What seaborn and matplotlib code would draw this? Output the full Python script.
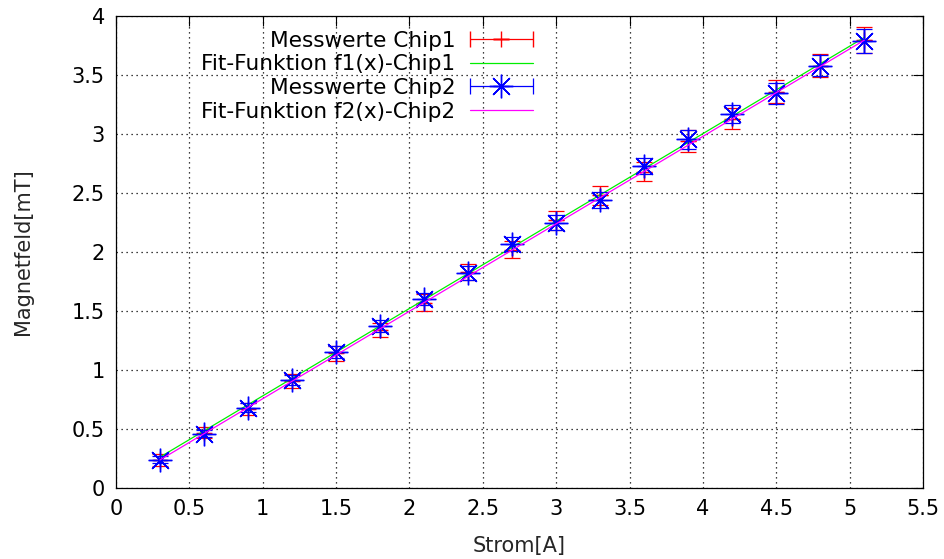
import matplotlib
matplotlib.use("Agg")
import matplotlib.pyplot as plt
import seaborn as sns
import pandas as pd
import numpy as np
from matplotlib.legend_handler import HandlerErrorbar
from matplotlib.lines import Line2D
from matplotlib.container import ErrorbarContainer

# ---- data ----
strom = [0.3, 0.6, 0.9, 1.2, 1.5, 1.8, 2.1, 2.4, 2.7, 3.0, 3.3, 3.6, 3.9, 4.2, 4.5, 4.8, 5.1]
chip1 = [0.24, 0.47, 0.67, 0.91, 1.14, 1.34, 1.57, 1.83, 2.02, 2.27, 2.48, 2.68, 2.94, 3.13, 3.36, 3.58, 3.80]
chip2 = [0.24, 0.46, 0.68, 0.915, 1.15, 1.37, 1.60, 1.825, 2.065, 2.25, 2.44, 2.73, 2.955, 3.17, 3.345, 3.58, 3.79]
chip1_err = [0.05, 0.05, 0.05, 0.06, 0.06, 0.06, 0.07, 0.07, 0.07, 0.08, 0.08, 0.08, 0.09, 0.09, 0.10, 0.10, 0.11]
chip2_err = [0.03, 0.03, 0.04, 0.04, 0.05, 0.05, 0.05, 0.06, 0.06, 0.06, 0.07, 0.07, 0.08, 0.08, 0.09, 0.09, 0.10]
strom_err = [0.05] * len(strom)

fit_x = [0.3, 5.1]
fit1_y = [0.262, 3.818]
fit2_y = [0.238, 3.795]

labels = ["Messwerte Chip1", "Fit-Funktion f1(x)-Chip1", "Messwerte Chip2", "Fit-Funktion f2(x)-Chip2"]
x_ticks = [0, 0.5, 1, 1.5, 2, 2.5, 3, 3.5, 4, 4.5, 5, 5.5]
x_ticklabels = ["0", "0.5", "1", "1.5", "2", "2.5", "3", "3.5", "4", "4.5", "5", "5.5"]
y_ticks = [0, 0.5, 1, 1.5, 2, 2.5, 3, 3.5, 4]
y_ticklabels = ["0", "0.5", "1", "1.5", "2", "2.5", "3", "3.5", "4"]

sns.set_theme(style="white")
plt.rcParams["font.family"] = ["DejaVu Sans"]
FS = 15
LFS = 15.6

RED, GREEN, BLUE, MAG = "#ff0000", "#00ee00", "#0000ff", "#ff00ff"

fig = plt.figure(figsize=(9.45, 5.59), dpi=100)
ax = fig.add_axes([116 / 945, 71 / 559, 807 / 945, 472 / 559])

fit_df = pd.DataFrame({"x": fit_x, "f1": fit1_y, "f2": fit2_y})

# Chip1 points: y error bars with caps, x error bars plain
ax.errorbar(strom, chip1, yerr=chip1_err, fmt="none", ecolor=RED,
            elinewidth=0.9, capsize=6, capthick=0.9, zorder=3)
ax.errorbar(strom, chip1, xerr=strom_err, fmt="none", ecolor=RED,
            elinewidth=0.9, capsize=0, zorder=3)
ax.plot(strom, chip1, linestyle="none", marker="+", markersize=11, markeredgewidth=1.0,
        color=RED, zorder=3)
sns.lineplot(data=fit_df, x="x", y="f1", ax=ax, color=GREEN, linewidth=0.9, zorder=4)

ax.errorbar(strom, chip2, yerr=chip2_err, fmt="none", ecolor=BLUE,
            elinewidth=0.9, capsize=6, capthick=0.9, zorder=5)
ax.errorbar(strom, chip2, xerr=strom_err, fmt="none", ecolor=BLUE,
            elinewidth=0.9, capsize=0, zorder=5)
ax.plot(strom, chip2, linestyle="none", marker=(8, 2, 0), markersize=17, markeredgewidth=1.0,
        color=BLUE, zorder=5)
sns.lineplot(data=fit_df, x="x", y="f2", ax=ax, color=MAG, linewidth=0.9, zorder=6)

# legend proxies (empty errorbar containers, nothing drawn in the axes)
h1 = ax.errorbar([np.nan], [np.nan], xerr=[0.1], yerr=[0.1], fmt="+", color=RED, ecolor=RED,
                 markersize=11, markeredgewidth=1.0, elinewidth=0.9, capsize=6, capthick=0.9)
h2 = ax.errorbar([np.nan], [np.nan], xerr=[0.1], yerr=[0.1], fmt="none", ecolor=BLUE,
                 elinewidth=0.9, capsize=6, capthick=0.9)
h2_marker = Line2D([], [], linestyle="none", marker=(8, 2, 0), markersize=17,
                   markeredgewidth=1.0, color=BLUE)
h2c = ErrorbarContainer((h2_marker, h2.lines[1], h2.lines[2]), has_xerr=True, has_yerr=True)
l1 = Line2D([], [], color=GREEN, linewidth=0.9)
l2 = Line2D([], [], color=MAG, linewidth=0.9)

ax.set_xlim(0, 5.5)
ax.set_ylim(0, 4)
ax.set_xticks(x_ticks)
ax.set_xticklabels(x_ticklabels)
ax.set_yticks(y_ticks)
ax.set_yticklabels(y_ticklabels)
ax.tick_params(direction="in", length=7, width=0.8, top=True, right=True, labelsize=FS,
               colors="black", pad=8)
ax.set_xlabel("Strom[A]", fontsize=FS, labelpad=12)
ax.set_ylabel("Magnetfeld[mT]", fontsize=FS, labelpad=28)
ax.grid(True, linestyle=(0, (1, 3)), color="black", linewidth=0.9)
for s in ax.spines.values():
    s.set_color("black")
    s.set_linewidth(0.9)

leg = ax.legend([h1, l1, h2c, l2], labels, loc="upper right", bbox_to_anchor=(0.53, 0.992),
                frameon=False, markerfirst=False, fontsize=LFS, handlelength=2.9,
                handletextpad=0.68, labelspacing=0.17, borderpad=0, numpoints=1,
                handler_map={ErrorbarContainer: HandlerErrorbar(xerr_size=1.45, yerr_size=0.0)})
for t in leg.get_texts():
    t.set_color("black")

fig.savefig("out.png", dpi=100)
